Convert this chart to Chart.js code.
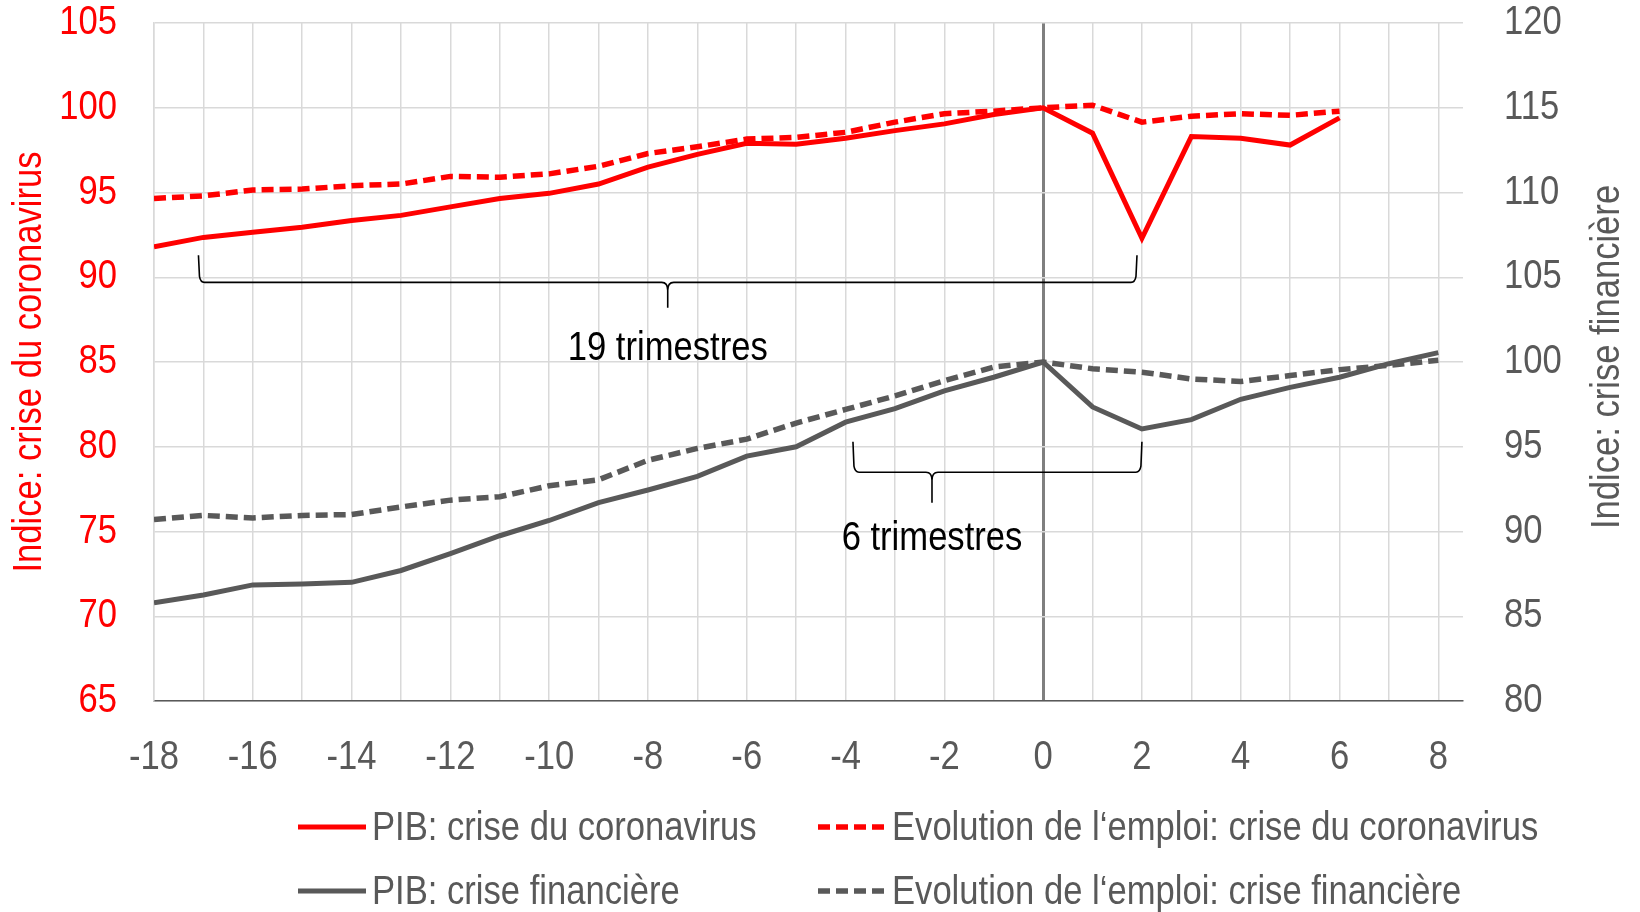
<!DOCTYPE html>
<html><head><meta charset="utf-8">
<script src="https://cdn.jsdelivr.net/npm/chart.js@4.4.1/dist/chart.umd.min.js"></script>
<style>html,body{margin:0;padding:0;background:#fff;overflow:hidden}#wrap{width:1640px;height:912px;position:relative}</style>
</head><body>
<div id="wrap"><canvas id="c" width="1640" height="912"></canvas></div>
<script>
// ---- data ----
const quarters = [-18,-17,-16,-15,-14,-13,-12,-11,-10,-9,-8,-7,-6,-5,-4,-3,-2,-1,0,1,2,3,4,5,6,7,8];
const xLabelValues = [-18,-16,-14,-12,-10,-8,-6,-4,-2,0,2,4,6,8];
const leftTicks = [65,70,75,80,85,90,95,100,105];
const rightTicks = [80,85,90,95,100,105,110,115,120];
const pibCorona = [91.8,92.35,92.65,92.95,93.35,93.65,94.15,94.65,94.95,95.5,96.5,97.25,97.9,97.85,98.2,98.65,99.05,99.6,100,98.5,92.3,98.3,98.2,97.8,99.4,null,null];
const emploiCorona = [94.65,94.8,95.15,95.2,95.4,95.5,95.95,95.9,96.1,96.55,97.3,97.7,98.15,98.25,98.55,99.15,99.65,99.8,100,100.15,99.15,99.5,99.65,99.55,99.8,null,null];
const pibFinanciere = [85.8,86.25,86.85,86.9,87.0,87.7,88.7,89.75,90.65,91.7,92.45,93.25,94.45,95.0,96.45,97.25,98.3,99.1,100,97.35,96.05,96.6,97.8,98.5,99.1,99.9,100.55];
const emploiFinanciere = [90.7,90.95,90.8,90.95,91.0,91.45,91.85,92.05,92.7,93.05,94.2,94.9,95.45,96.4,97.2,98.0,98.9,99.7,100,99.6,99.4,99.0,98.85,99.2,99.55,99.8,100.1];
const seriesLabels = ['PIB: crise du coronavirus','Evolution de l\u2018emploi: crise du coronavirus','PIB: crise financi\u00e8re','Evolution de l\u2018emploi: crise financi\u00e8re'];
const leftTitle = 'Indice: crise du coronavirus';
const rightTitle = 'Indice: crise financi\u00e8re';
const braceLabels = ['19 trimestres','6 trimestres'];
const braceRanges = [[-17.1, 1.9, -7.6], [-3.85, 2.0, -2.25]];   // from, to, tip (quarters)
const braceLevels = [[91.3, 89.7, 88.2, 85.75], [80.3, 78.5, 76.7, 74.55]]; // left-axis index values

// ---- styles ----
const FONT = "'Liberation Sans Narrow','Arial Narrow','Liberation Sans',Arial,sans-serif";
const NARROW = 0.865;
const RED = '#ff0000', GREY = '#595959', GRID = '#d9d9d9';

const toPts = arr => quarters.map((q,i)=>({x:q,y:arr[i]})).filter(p=>p.y!==null);

const narrowPlugin = {
  id:'narrow',
  beforeDraw(chart){
    const ctx = chart.ctx;
    if (ctx.__narrow) return;
    const orig = ctx.fillText;
    ctx.fillText = function(t, x, y, mw){
      this.save(); this.translate(x, y); this.scale(NARROW, 1);
      if (mw === undefined || mw === null) orig.call(this, t, 0, 0);
      else orig.call(this, t, 0, 0, mw / NARROW);
      this.restore();
    };
    ctx.__narrow = true;
  }
};

const bracePlugin = {
  id:'braces',
  afterDatasetsDraw(chart){
    const ctx = chart.ctx, xs = chart.scales.x, ys = chart.scales.y;
    ctx.save();
    ctx.strokeStyle = '#000'; ctx.lineWidth = 1.6; ctx.lineJoin='round';
    braceRanges.forEach((r,i)=>{
      const [from,to,tip] = r, [top,line,bottom,ty] = braceLevels[i];
      const x1=xs.getPixelForValue(from), x2=xs.getPixelForValue(to), xt=xs.getPixelForValue(tip);
      const yt=ys.getPixelForValue(top), yl=ys.getPixelForValue(line), yb=ys.getPixelForValue(bottom);
      const rr=6;
      ctx.beginPath();
      ctx.moveTo(x1,yt); ctx.lineTo(x1+1,yl-rr);
      ctx.quadraticCurveTo(x1+2,yl,x1+rr,yl);
      ctx.lineTo(xt-rr,yl);
      ctx.quadraticCurveTo(xt,yl,xt,yl+rr+2);
      ctx.lineTo(xt,yb);
      ctx.moveTo(xt,yl+rr+2);
      ctx.quadraticCurveTo(xt,yl,xt+rr,yl);
      ctx.lineTo(x2-rr,yl);
      ctx.quadraticCurveTo(x2-2,yl,x2-1,yl-rr);
      ctx.lineTo(x2,yt);
      ctx.stroke();
      ctx.fillStyle='#000'; ctx.font='40px '+FONT; ctx.textAlign='center'; ctx.textBaseline='middle';
      ctx.fillText(braceLabels[i], xs.getPixelForValue(tip), ys.getPixelForValue(ty));
    });
    ctx.restore();
  }
};

const extrasPlugin = {
  id:'extras',
  afterDraw(chart){
    const ctx = chart.ctx, ca = chart.chartArea;
    ctx.save();
    ctx.translate(1608,(ca.top+ca.bottom)/2 - 5);
    ctx.rotate(-Math.PI/2);
    ctx.fillStyle = GREY; ctx.font = '40px '+FONT; ctx.textAlign='center'; ctx.textBaseline='middle';
    ctx.fillText(rightTitle,0,0);
    ctx.restore();
    const pos = [[298,827],[818,827],[298,891],[818,891]];
    ctx.save();
    chart.data.datasets.forEach((ds,i)=>{
      const [x,y] = pos[i];
      ctx.strokeStyle = ds.borderColor; ctx.lineWidth = ds.borderWidth;
      ctx.setLineDash(ds.borderDash||[]); ctx.lineCap = 'butt';
      ctx.beginPath(); ctx.moveTo(x,y); ctx.lineTo(x+68,y); ctx.stroke();
      ctx.setLineDash([]);
      ctx.fillStyle = GREY; ctx.font='40px '+FONT; ctx.textAlign='left'; ctx.textBaseline='middle';
      ctx.fillText(ds.label, x+74, y+2);
    });
    ctx.restore();
  }
};

const noPad = s => { s.paddingTop = 0; s.paddingBottom = 0; s.paddingLeft = 0; s.paddingRight = 0; };

new Chart(document.getElementById('c'), {
  type:'line',
  data:{
    datasets:[
      {label:seriesLabels[0], data:toPts(pibCorona), yAxisID:'y', borderColor:RED, borderWidth:5, pointRadius:0, tension:0},
      {label:seriesLabels[1], data:toPts(emploiCorona), yAxisID:'y', borderColor:RED, borderWidth:5.5, borderDash:[12,6], pointRadius:0, tension:0},
      {label:seriesLabels[2], data:toPts(pibFinanciere), yAxisID:'y2', borderColor:GREY, borderWidth:5, pointRadius:0, tension:0},
      {label:seriesLabels[3], data:toPts(emploiFinanciere), yAxisID:'y2', borderColor:GREY, borderWidth:5.5, borderDash:[12,6], pointRadius:0, tension:0}
    ]
  },
  options:{
    responsive:false, animation:false,
    layout:{padding:{top:23,left:0,right:0,bottom:0}},
    plugins:{legend:{display:false}, tooltip:{enabled:false}},
    scales:{
      x:{type:'linear', min:-18, max:8.5,
        afterBuildTicks: s => { s.ticks = quarters.map(v=>({value:v})); },
        afterFit: s => { s.height = 211; noPad(s); },
        ticks:{autoSkip:false, maxRotation:0, padding:35, color:GREY, font:{family:FONT,size:40,lineHeight:1.1},
          callback: v => xLabelValues.includes(v) ? String(v) : ''},
        grid:{drawTicks:false, color: c => (c.tick && c.tick.value===0) ? '#7f7f7f' : GRID,
              lineWidth: c => (c.tick && c.tick.value===0) ? 3 : 1.5},
        border:{display:true, color:GREY, width:1.5}
      },
      y:{position:'left', min:65, max:105,
        afterBuildTicks: s => { s.ticks = leftTicks.map(v=>({value:v})); },
        afterFit: s => { s.width = 154; noPad(s); },
        ticks:{padding:37, color:RED, font:{family:FONT,size:40,lineHeight:1.1}},
        grid:{drawTicks:false, color:GRID, lineWidth:1.5},
        border:{display:true, color:GRID, width:1.5},
        title:{display:true, text:leftTitle, color:RED, font:{family:FONT,size:40,lineHeight:1.2}, padding:{top:6,bottom:0}}
      },
      y2:{position:'right', min:80, max:120,
        afterBuildTicks: s => { s.ticks = rightTicks.map(v=>({value:v})); },
        afterFit: s => { s.width = 177; noPad(s); },
        ticks:{padding:41, color:GREY, font:{family:FONT,size:40,lineHeight:1.1}},
        grid:{display:false, drawTicks:false},
        border:{display:false}
      }
    }
  },
  plugins:[narrowPlugin, bracePlugin, extrasPlugin]
});
</script>
</body></html>
